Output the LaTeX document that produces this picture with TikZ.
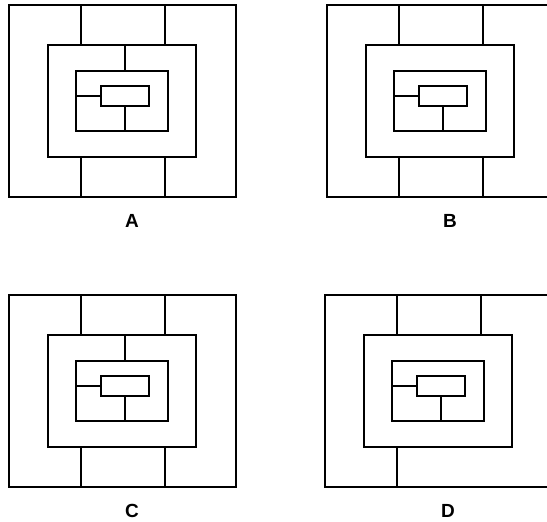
\documentclass[tikz,border=0pt]{standalone}
\usepackage{fontspec}
\newfontfamily\labfont{Liberation Sans}
\tikzset{
    wall/.style={draw, line width=2.2pt, inner sep=0pt, outer sep=0pt},
    room/.style={draw, line width=2.7pt, inner sep=0pt, outer sep=0pt},
    plabel/.style={font=\labfont\bfseries\fontsize{19}{22}\selectfont}
}

\begin{document}
\begin{tikzpicture}[x=1pt,y=-1pt,line join=miter]

% page frame; the right side of B and D runs off the page
\useasboundingbox (0,0) rectangle (547,522);
\clip (0,0) rectangle (547,522);

% one plan per letter: name / shift / inner top door / outer lower right door
\foreach \p/\dx/\dy/\up/\dn in {A/0/0/1/1, B/318/0/0/1, C/0/290/1/1, D/316/290/0/0} {
  \begin{scope}[shift={(\dx,\dy)}]
    % nested rectangles
    \node[wall, minimum width=227pt, minimum height=192pt] (out\p) at (122.5,101) {};
    \node[wall, minimum width=148pt, minimum height=112pt] (mid\p) at (122,101) {};
    \node[room, minimum width=92pt, minimum height=60pt] (inn\p) at (122,101) {};
    \node[room, minimum width=48pt, minimum height=20pt] (box\p) at (125,96) {};

    % walls between outer and middle ring
    \coordinate (l\p) at (81,0);
    \coordinate (r\p) at (165,0);
    \draw[wall] (out\p.north -| l\p) -- (mid\p.north -| l\p);
    \draw[wall] (out\p.north -| r\p) -- (mid\p.north -| r\p);
    \draw[wall] (mid\p.south -| l\p) -- (out\p.south -| l\p);
    \ifnum\dn=1
      \draw[wall] (mid\p.south -| r\p) -- (out\p.south -| r\p);
    \fi

    % middle ring to inner ring
    \ifnum\up=1
      \draw[wall] (mid\p.north -| box\p.north) -- (inn\p.north -| box\p.north);
    \fi

    % small box to inner ring
    \draw[room] (box\p.west) -- (inn\p.west |- box\p.west);
    \draw[room] (box\p.south) -- (inn\p.south -| box\p.south);

    % letter below
    \node[plabel] (lab\p) at (132,221) {\p};
  \end{scope}
}

\end{tikzpicture}
\end{document}
